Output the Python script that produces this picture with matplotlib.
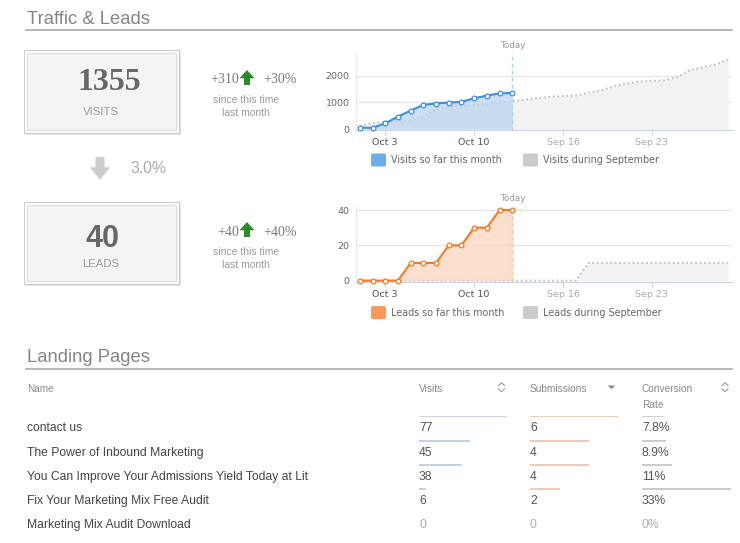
import numpy as np
import matplotlib.pyplot as plt
from matplotlib.patches import Rectangle, Polygon, FancyBboxPatch

W, H = 740, 543

#%% data
now_days = [1, 2, 3, 4, 5, 6, 7, 8, 9, 10, 11, 12, 13]
visits_now = [54, 54, 216, 472, 693, 913, 961, 998, 1022, 1156, 1255, 1340, 1355]
leads_now = [0, 0, 0, 0, 10, 10, 10, 20, 20, 30, 30, 40, 40]

sep_days = [1, 2, 3, 4, 5, 6, 7, 8, 9, 10, 11, 12, 13, 14, 15,
            16, 17, 18, 19, 20, 21, 22, 23, 24, 25, 26, 27, 28, 29, 30]
visits_sep = [120, 230, 290, 290, 340, 470, 740, 850, 880, 900, 920, 1000, 1050, 1110, 1170,
              1210, 1240, 1260, 1360, 1450, 1600, 1710, 1780, 1810, 1830, 1950, 2220, 2310, 2420, 2600]
leads_sep = [0, 0, 0, 0, 0, 0, 0, 0, 0, 0, 0, 0, 0, 0, 0,
             0, 0, 0, 10, 10, 10, 10, 10, 10, 10, 10, 10, 10, 10, 10]
today = 13

tick_days = [3, 10, 17, 24]
tick_labels = ['Oct 3', 'Oct 10', 'Sep 16', 'Sep 23']
visits_yticks = [0, 1000, 2000]
leads_yticks = [0, 20, 40]

pages = ['contact us', 'The Power of Inbound Marketing',
         'You Can Improve Your Admissions Yield Today at Lit',
         'Fix Your Marketing Mix Free Audit', 'Marketing Mix Audit Download']
page_visits = [77, 45, 38, 6, 0]
page_subs = [6, 4, 4, 2, 0]
page_conv = [7.8, 8.9, 11, 33, 0]
conv_labels = ['7.8%', '8.9%', '11%', '33%', '0%']

#%% figure + background axes in pixel coords
fig = plt.figure(figsize=(W / 100, H / 100), dpi=100)
bg = fig.add_axes([0, 0, 1, 1])
bg.set_xlim(0, W)
bg.set_ylim(H, 0)
bg.axis('off')

def px_rect(x0, y0, x1, y1):
    return [x0 / W, 1 - y1 / H, (x1 - x0) / W, (y1 - y0) / H]

SANS = 'Liberation Sans'

# section titles
for txt, yb, yl in [('Traffic & Leads', 24, 30), ('Landing Pages', 362.5, 369.3)]:
    bg.text(27, yb, txt, fontsize=13.3, color='#858585', family=SANS, va='baseline')
    bg.plot([26, 732], [yl, yl], color='#a3a3a3', lw=1.1)

# stat boxes
def stat_box(y0, y1):
    bg.add_patch(Rectangle((25, y0 + 2), 156, y1 - y0, fc='#e6e6e6', ec='none'))
    bg.add_patch(Rectangle((23.5, y0), 155.5, y1 - y0, fc='white', ec='#cccccc', lw=0.8))
    bg.add_patch(Rectangle((26.5, y0 + 3), 149.5, y1 - y0 - 6, fc='#f4f4f4', ec='#dddddd', lw=0.8))

stat_box(49.5, 132.5)
stat_box(201.5, 284)

bg.text(109, 90, '1355', fontsize=23, fontweight='bold', family='Liberation Serif',
        color='#676767', ha='center', va='baseline')
bg.text(101, 115, 'VISITS', fontsize=8.2, color='#9a9a9a', family=SANS, ha='center', va='baseline')
bg.text(102.5, 246.7, '40', fontsize=22, fontweight='bold', family=SANS,
        color='#676767', ha='center', va='baseline')
bg.text(101, 267.3, 'LEADS', fontsize=8.2, color='#9a9a9a', family=SANS, ha='center', va='baseline')

def arrow(cx, top, bottom, w, sw, color, up=True):
    hh = (bottom - top) * 0.55
    if up:
        pts = [(cx, top), (cx + w / 2, top + hh), (cx + sw / 2, top + hh), (cx + sw / 2, bottom),
               (cx - sw / 2, bottom), (cx - sw / 2, top + hh), (cx - w / 2, top + hh)]
    else:
        pts = [(cx, bottom), (cx + w / 2, bottom - hh), (cx + sw / 2, bottom - hh), (cx + sw / 2, top),
               (cx - sw / 2, top), (cx - sw / 2, bottom - hh), (cx - w / 2, bottom - hh)]
    bg.add_patch(Polygon(pts, closed=True, fc=color, ec='none'))

# change vs last month
for yb, yl1, yl2, a, b, ay in [(83.3, 103.3, 116, '+310', '+30%', 70),
                                (236, 255, 268.3, '+40', '+40%', 222)]:
    bg.text(239, yb, a, fontsize=10, family='Liberation Serif', color='#7a7a7a', ha='right', va='baseline')
    bg.text(263, yb, b, fontsize=10, family='Liberation Serif', color='#7a7a7a', va='baseline')
    arrow(247, ay, ay + 15, 15, 6, '#2b8a2b')
    bg.text(246, yl1, 'since this time', fontsize=7.5, family=SANS, color='#9a9a9a', ha='center', va='baseline')
    bg.text(246, yl2, 'last month', fontsize=7.5, family=SANS, color='#9a9a9a', ha='center', va='baseline')

arrow(100, 157, 180, 20, 9, '#cccccc', up=False)
bg.text(130, 173.3, '3.0%', fontsize=11.3, family=SANS, color='#aaaaaa', va='baseline')

#%% charts
def chart(rect, cur, sep, ymax, ybot, yticks, line_c, fill_c, today_c, leg_y, leg_c, leg_txt):
    ax = fig.add_axes(rect)
    ax.set_facecolor('none')
    ax.fill_between(sep_days, sep, 0, color='#f2f2f2', lw=0, zorder=1)
    ax.plot(sep_days, sep, color='#c4c4c4', ls=(0, (1, 1.3)), lw=1.4, zorder=2)
    ax.fill_between(now_days, cur, 0, color=fill_c, alpha=0.75, lw=0, zorder=3)
    ax.plot(now_days, cur, color=line_c, lw=1.5, marker='o', ms=3.4, mfc='white',
            mec=line_c, mew=0.9, zorder=5, clip_on=False)
    ax.axvline(today, color=today_c, ls=(0, (3, 2)), lw=1.0, zorder=4)
    for t in yticks[1:]:
        ax.axhline(t, color='#e6e6e6', lw=0.9, zorder=0)
    ax.set_xlim(0.7, 30.3)
    ax.set_ylim(ybot, ymax)
    ax.set_yticks(yticks)
    ax.set_xticks(tick_days)
    ax.set_xticklabels(tick_labels)
    ax.tick_params(axis='y', length=0, pad=4.5, labelsize=6.8, labelcolor='#666666')
    ax.tick_params(axis='x', length=3.5, width=0.8, color='#ccd6eb', pad=2.5, labelsize=6.8)
    for lab, c in zip(ax.get_xticklabels(), ['#555555', '#555555', '#aaaaaa', '#aaaaaa']):
        lab.set_color(c)
        lab.set_family('DejaVu Sans')
    for lab in ax.get_yticklabels():
        lab.set_family('DejaVu Sans')
    for s in ['top', 'right']:
        ax.spines[s].set_visible(False)
    ax.spines['left'].set_color('#e6e6e6')
    ax.spines['bottom'].set_color('#ccd6eb')
    ax.spines['left'].set_linewidth(0.8)
    ax.spines['bottom'].set_linewidth(0.9)
    # legend
    for x0, c, t in [(371, leg_c, leg_txt[0]), (523, '#cccccc', leg_txt[1])]:
        bg.add_patch(FancyBboxPatch((x0 + 1, leg_y - 5.5), 13, 11,
                                    boxstyle='round,pad=1,rounding_size=2', fc=c, ec='none'))
        bg.text(x0 + 20, leg_y, t, fontsize=6.9, family='DejaVu Sans', color='#666666', va='center')
    return ax

ax1 = chart(px_rect(356, 53, 732, 130), visits_now, visits_sep, 2850, -30, visits_yticks,
            '#3d8ee3', '#bcd5ef', '#b3d3f3', 160, '#6aaeec',
            ['Visits so far this month', 'Visits during September'])
ax2 = chart(px_rect(356, 206.5, 732, 281.5), leads_now, leads_sep, 42, -0.5, leads_yticks,
            '#f47a26', '#fcd5bb', '#f8c6a6', 312.5, '#ff9955',
            ['Leads so far this month', 'Leads during September'])

bg.text(512.5, 45.8, 'Today', fontsize=6.3, family='DejaVu Sans', color='#999999', ha='center', va='center')
bg.text(512.5, 198.3, 'Today', fontsize=6.3, family='DejaVu Sans', color='#999999', ha='center', va='center')

#%% landing pages table
hdr_c = '#888888'
bg.text(27, 391.7, 'Name', fontsize=7.2, family=SANS, color=hdr_c, va='baseline')
bg.text(419, 391.7, 'Visits', fontsize=7.3, family=SANS, color=hdr_c, va='baseline')
bg.text(530, 391.7, 'Submissions', fontsize=7.3, family=SANS, color=hdr_c, va='baseline')
bg.text(642, 391.7, 'Conversion', fontsize=7.3, family=SANS, color=hdr_c, va='baseline')
bg.text(642, 407.7, 'Rate', fontsize=7.3, family=SANS, color=hdr_c, va='baseline')

def sort_icon(cx):
    bg.plot([cx - 3, cx, cx + 3], [385.5, 382.8, 385.5], color='#999999', lw=0.8)
    bg.plot([cx - 3, cx, cx + 3], [389, 391.7, 389], color='#999999', lw=0.8)

sort_icon(501.5)
sort_icon(725)
bg.add_patch(Polygon([(608, 385.5), (615, 385.5), (611.5, 389.3)], closed=True, fc='#888888', ec='none'))

row_base = [431.3, 455.8, 480.2, 504.3, 528.3]
for i, name in enumerate(pages):
    last = page_visits[i] == 0
    num_c = '#aaaaaa' if last else '#555555'
    bg.text(26.7, row_base[i], name, fontsize=8.7, family=SANS, color='#444444', va='baseline')
    bg.text(419, row_base[i], str(page_visits[i]), fontsize=8.7, family=SANS, color=num_c, va='baseline')
    bg.text(530, row_base[i], str(page_subs[i]), fontsize=8.7, family=SANS, color=num_c, va='baseline')
    bg.text(642, row_base[i], conv_labels[i], fontsize=8.7, family=SANS, color=num_c, va='baseline')

# inline bars above each value
bar_y = [b - 15 for b in row_base]
for x0, w, vals, c_first, c_rest in [(419, 88, page_visits, '#c8d8e8', '#b1c4d8'),
                                     (530, 89, page_subs, '#f1d0bb', '#e4bea5'),
                                     (642, 89, page_conv, '#d0d0d0', '#bdbdbd')]:
    cax = fig.add_axes(px_rect(x0, 0, x0 + w, H))
    cax.set_xlim(0, max(vals))
    cax.set_ylim(H, 0)
    cax.axis('off')
    for i, v in enumerate(vals):
        if v > 0:
            cax.hlines(bar_y[i], 0, v, color=c_first if i == 0 else c_rest,
                       lw=0.8 if i == 0 else 1.1)

fig.savefig('out.png', dpi=100)
